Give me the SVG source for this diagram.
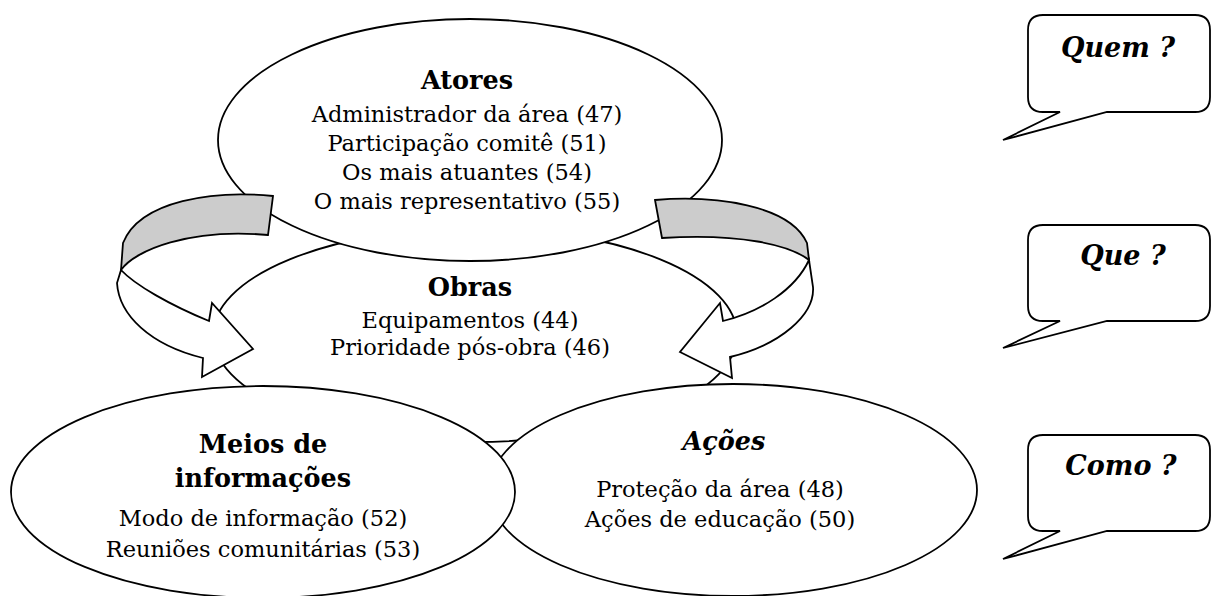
<svg xmlns="http://www.w3.org/2000/svg" width="1211" height="596" viewBox="0 0 1211 596">
<style>
.shape{fill:#ffffff;stroke:#000000;stroke-width:1.8;stroke-linejoin:miter}
.band{fill:#cccccc;stroke:#000000;stroke-width:1.8}
.t{font-family:"DejaVu Serif","Liberation Serif",serif;font-size:22.5px;fill:#000;text-anchor:middle}
.h{font-family:"DejaVu Serif","Liberation Serif",serif;font-size:25.5px;font-weight:bold;fill:#000;text-anchor:middle}
.hi{font-family:"DejaVu Serif","Liberation Serif",serif;font-size:25.5px;font-weight:bold;font-style:italic;fill:#000;text-anchor:middle}
.q{font-family:"DejaVu Serif","Liberation Serif",serif;font-size:27px;font-weight:bold;font-style:italic;fill:#000;text-anchor:middle}
</style>
<rect width="1211" height="596" fill="#ffffff"/>
<g id="node-obras">
<ellipse class="shape" cx="475" cy="335" rx="262" ry="107"/>
<text class="h" x="470" y="296">Obras</text>
<text class="t" x="470" y="328">Equipamentos (44)</text>
<text class="t" x="470" y="355">Prioridade pós-obra (46)</text>
</g>
<g id="node-atores">
<ellipse class="shape" cx="470" cy="140" rx="252" ry="121"/>
<text class="h" x="467" y="89">Atores</text>
<text class="t" x="467" y="122">Administrador da área (47)</text>
<text class="t" x="467" y="151">Participação comitê (51)</text>
<text class="t" x="467" y="180">Os mais atuantes (54)</text>
<text class="t" x="467" y="209">O mais representativo (55)</text>
</g>
<g id="node-acoes">
<ellipse class="shape" cx="733" cy="490" rx="244" ry="106"/>
<text class="hi" x="724" y="450">Ações</text>
<text class="t" x="720" y="497">Proteção da área (48)</text>
<text class="t" x="720" y="527">Ações de educação (50)</text>
</g>
<g id="node-meios">
<ellipse class="shape" cx="263" cy="492" rx="252" ry="106"/>
<text class="h" x="263" y="453">Meios de</text>
<text class="h" x="263" y="487">informações</text>
<text class="t" x="263" y="526">Modo de informação (52)</text>
<text class="t" x="263" y="557">Reuniões comunitárias (53)</text>
</g>
<g id="connectors">
<g id="arrow-left">
<path class="shape" d="M121,270 L117,283 C119,315 150,345 203,358 L202,377 L253,349 L212,303 L209,321 C170,305 135,285 121,270 Z"/>
<path class="band" d="M273,196 C215,190 140,200 123,243 L121,270 C135,250 190,228 268,235 Z"/>
</g>
<g id="arrow-right">
<path class="shape" d="M809,260 L813,287 C815,315 780,345 730,357 L732,378 L680,352 L720,303 L723,321 C760,312 795,290 809,260 Z"/>
<path class="band" d="M655,200 C715,195 790,205 807,243 L809,260 C790,245 740,233 662,238 Z"/>
</g>
</g>
<g id="bubble-quem">
<path class="shape" d="M1043,15 H1195 Q1210,15 1210,30 V97 Q1210,112 1195,112 H1107 L1003,140 L1060,112 H1043 Q1028,112 1028,97 V30 Q1028,15 1043,15 Z"/>
<text class="q" x="1118" y="57">Quem ?</text>
</g>
<g id="bubble-que">
<path class="shape" d="M1043,225 H1195 Q1210,225 1210,240 V306 Q1210,321 1195,321 H1107 L1003,348 L1060,321 H1043 Q1028,321 1028,306 V240 Q1028,225 1043,225 Z"/>
<text class="q" x="1123" y="265">Que ?</text>
</g>
<g id="bubble-como">
<path class="shape" d="M1043,435 H1195 Q1210,435 1210,450 V516 Q1210,531 1195,531 H1107 L1003,559 L1060,531 H1043 Q1028,531 1028,516 V450 Q1028,435 1043,435 Z"/>
<text class="q" x="1121" y="475">Como ?</text>
</g>
</svg>
